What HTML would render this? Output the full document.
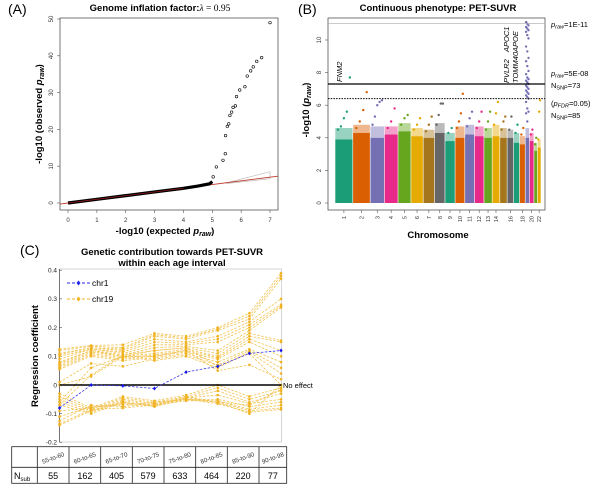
<!DOCTYPE html>
<html><head><meta charset="utf-8"><style>
html,body{margin:0;padding:0;background:#fff;}
svg{display:block;font-family:"Liberation Sans",sans-serif;}
</style></head><body>
<svg id="fig" width="600" height="485" viewBox="0 0 600 485">
<g id="pa"></g>
<g id="pb"></g>
<g id="pc"></g>
</svg>
<script>
// ---------- Panel A data ----------
const qqBulkExp = [0, 1, 2, 3, 4, 4.5, 4.9, 5.0];
const qqBulkObs = [0, 1, 2, 3, 4, 4.6, 5.2, 5.8];
const qqTailExp = [5.03,5.14,5.37,5.45,5.46,5.52,5.57,5.61,5.67,5.72,5.8,5.84,5.95,6.13,6.21,6.33,6.42,6.54,6.71,7.0];
const qqTailObs = [7.1,9.8,11.6,13.4,18.3,20.8,21.5,23.8,24.7,26,26.4,28.9,30.7,31.6,34.5,35.9,37,38.5,39.5,49];
const qqXTicks = [0,1,2,3,4,5,6,7];
const qqYTicks = [0,10,20,30,40,50];
// ---------- Panel B data ----------
const chrNames = ["1","2","3","4","5","6","7","8","9","10","11","12","13","14","15","16","17","18","19","20","21","22"];
const chrLen = [249,243,198,191,181,171,159,146,141,136,135,133,115,107,102,90,83,80,59,63,48,51];
const chrDense = [3.9,4.3,4.0,4.2,4.4,4.1,4.0,4.3,3.8,4.0,4.2,4.1,4.0,4.1,4.0,4.0,3.7,3.6,4.0,3.8,3.2,3.4];
const chrFuzz = [4.6,4.8,4.7,4.7,4.9,4.6,4.5,4.9,4.3,4.7,4.8,4.7,4.6,4.8,4.6,4.5,4.3,4.1,4.6,4.3,3.7,3.9];
const chrPeaks = [[4.5,4.7,5.2,5.6,7.7],[4.6,5.0,5.7,6.8],[4.8,5.3,6.0,6.2,6.3],[4.6,5.0,5.8],[4.8,5.2,5.4],[4.5,4.8,5.2],[4.4,4.8,5.3],[4.8,5.4,6.1,6.1],[4.3,4.6],[4.6,5.0,5.5,6.7],[4.7,5.2,5.6],[4.6,5.0,5.6],[4.5,5.0,5.6],[4.8,5.5,6.2],[4.5,5.0,5.3],[4.5,5.3],[4.3,4.8],[4.2,4.6],[4.6,5.0],[4.2,4.5],[3.6,4.0],[3.9,5.6,6.3]];
const chr19Hits = [11.1,11,10.9,10.8,10.7,10.6,10.5,10.3,10.1,9.6,9.3,8.9,8.7,8.4,8.1,7.9,7.7,7.6,7.5,7.4,7.3,7.2,7.1,7.0,6.9,6.8,6.7,6.6,6.5,6.4,6.2,5.8,5.6,5.5,5.0];
const manYTicks = [0,2,4,6,8,10];
const chrShown = ["1","2","3","4","5","6","7","8","9","10","11","12","13","14","16","18","20","22"];
const thrTop = 11, thrGw = 7.3, thrFdr = 6.4;
// ---------- Panel C data ----------
const ageGroups = ["55-to-60","60-to-65","65-to-70","70-to-75","75-to-80","80-to-85","85-to-90","90-to-98"];
const nSub = [55,162,405,579,633,464,220,77];
const chr1Series = [-0.08,0,-0.003,-0.012,0.045,0.065,0.11,0.12];
const chr19Series = [
[0.125,0.138,0.14,0.18,0.17,0.2,0.25,0.39],
[0.12,0.135,0.13,0.175,0.165,0.195,0.24,0.38],
[0.11,0.13,0.125,0.17,0.16,0.19,0.23,0.37],
[0.105,0.13,0.12,0.16,0.15,0.17,0.22,0.3],
[0.1,0.125,0.115,0.15,0.145,0.16,0.21,0.28],
[0.09,0.125,0.11,0.14,0.14,0.15,0.2,0.275],
[0.08,0.12,0.105,0.13,0.135,0.12,0.19,0.27],
[0.075,0.12,0.1,0.12,0.13,0.11,0.18,0.155],
[0.07,0.115,0.1,0.11,0.125,0.1,0.17,0.15],
[0.065,0.11,0.095,0.105,0.12,0.095,0.16,0.12],
[0.06,0.105,0.09,0.1,0.115,0.09,0.15,0.1],
[0.055,0.1,0.085,0.095,0.11,0.08,0.125,0.08],
[0.01,0.075,0.065,0.09,0.105,0.07,0.12,0.06],
[0,0.03,0.1,0.085,0.1,0.06,0.115,0.04],
[-0.06,0.06,0.1,0.1,0.12,0.05,0.07,0.02],
[-0.07,0.035,0.105,0.12,0.13,0.065,0.11,0.0],
[-0.03,-0.08,-0.04,-0.055,-0.035,0,-0.04,-0.01],
[-0.04,-0.085,-0.045,-0.06,-0.04,-0.01,-0.05,-0.02],
[-0.05,-0.09,-0.05,-0.065,-0.045,-0.02,-0.06,-0.03],
[-0.06,-0.095,-0.055,-0.07,-0.045,-0.035,-0.065,-0.05],
[-0.07,-0.1,-0.06,-0.075,-0.05,-0.05,-0.075,-0.06],
[-0.09,-0.08,-0.065,-0.07,-0.055,-0.055,-0.085,-0.07],
[-0.11,-0.075,-0.07,-0.06,-0.05,-0.06,-0.09,-0.08],
[-0.125,-0.07,-0.075,-0.065,-0.05,-0.065,-0.095,-0.085],
[-0.135,-0.085,-0.08,-0.07,-0.04,-0.06,-0.1,0.0],
[-0.14,-0.09,-0.06,-0.075,-0.045,-0.06,-0.07,-0.015]
];
const cYTicks = [-0.2,-0.1,0,0.1,0.2,0.3,0.4];

const NS="http://www.w3.org/2000/svg";
function mk(parent,tag,attrs,text){const e=document.createElementNS(NS,tag);for(const k in attrs)e.setAttribute(k,attrs[k]);if(text!==undefined)e.textContent=text;parent.appendChild(e);return e;}

// ================= PANEL A =================
const pa=document.getElementById('pa');
const ax=v=>68+v*28.86, ay=v=>203-v*3.68;
let t;
t=mk(pa,'text',{x:8,y:14,'font-size':14});t.textContent='(A)';


t=mk(pa,'text',{x:160,y:11,'font-size':9.5,'font-weight':'bold','text-anchor':'middle'});
t.innerHTML='Genome inflation factor:<tspan font-family="Liberation Serif" font-weight="normal" font-style="italic">λ</tspan><tspan font-family="Liberation Serif" font-weight="normal"> = 0.95</tspan>';


let box=mk(pa,'rect',{x:60,y:18,width:218,height:192,fill:'none',stroke:'#555','stroke-width':0.8});


let band=mk(pa,'polygon',{points:`${ax(5.5)},${ay(5.5)} ${ax(7)},${ay(8.5)} ${ax(7)},${ay(6.6)} ${ax(5.5)},${ay(5.3)}`,fill:'none',stroke:'#bbb','stroke-width':0.7});


let ref=mk(pa,'line',{x1:60,y1:ay(-0.3),x2:278,y2:ay(7.3),stroke:'#c0392b','stroke-width':0.9});


let bulk=mk(pa,'polyline',{points:qqBulkExp.map((e,i)=>ax(e)+','+ay(qqBulkObs[i])).join(' '),fill:'none',stroke:'#000','stroke-width':3.2});


let bulkRed=mk(pa,'polyline',{points:qqBulkExp.slice(0,5).map((e,i)=>ax(e)+','+ay(qqBulkObs[i])).join(' '),fill:'none',stroke:'#8b1a1a','stroke-width':0.8});


qqTailExp.forEach((e,i)=>{const c=mk(pa,'circle',{cx:ax(e),cy:ay(qqTailObs[i]),r:1.3,fill:'none',stroke:'#000','stroke-width':0.6});

});
qqXTicks.forEach(v=>{mk(pa,'line',{x1:ax(v),y1:210,x2:ax(v),y2:213,stroke:'#555','stroke-width':0.6});
const l=mk(pa,'text',{x:ax(v),y:222,'font-size':6,'text-anchor':'middle',fill:'#333'},String(v));

});
qqYTicks.forEach(v=>{mk(pa,'line',{x1:57,y1:ay(v),x2:60,y2:ay(v),stroke:'#555','stroke-width':0.6});
const l=mk(pa,'text',{x:53,y:ay(v),'font-size':6,'text-anchor':'middle',fill:'#333',transform:`rotate(-90 53 ${ay(v)})`},String(v));

});
t=mk(pa,'text',{x:165,y:234,'font-size':9.5,'font-weight':'bold','text-anchor':'middle'});
t.innerHTML='-log10 (expected <tspan font-style="italic">p</tspan><tspan font-style="italic" font-size="7" dy="2">raw</tspan><tspan dy="-2">)</tspan>';


t=mk(pa,'text',{x:0,y:0,'font-size':9.5,'font-weight':'bold','text-anchor':'middle',transform:'translate(42 114) rotate(-90)'});
t.innerHTML='-log10 (observed <tspan font-style="italic">p</tspan><tspan font-style="italic" font-size="7" dy="2">raw</tspan><tspan dy="-2">)</tspan>';



// ================= PANEL B =================
const pb=document.getElementById('pb');
const by=v=>203-v*16.3;
const colors=['#1b9e77','#d95f02','#7570b3','#e7298a','#66a61e','#e6ab02','#a6761d','#666666'];
const bx0=335,bx1=541;
const total=chrLen.reduce((a,b)=>a+b,0);
t=mk(pb,'text',{x:298,y:14,'font-size':14});t.textContent='(B)';


t=mk(pb,'text',{x:438,y:11,'font-size':9.5,'font-weight':'bold','text-anchor':'middle'},'Continuous phenotype: PET-SUVR');


box=mk(pb,'rect',{x:328,y:18,width:217,height:192,fill:'none',stroke:'#555','stroke-width':0.8});


let cum=0; const centers={};
chrLen.forEach((L,i)=>{
 const xs=bx0+cum/total*(bx1-bx0), w=L/total*(bx1-bx0); cum+=L;
 const col=colors[i%8]; centers[chrNames[i]]=xs+w/2;
 const f=mk(pb,'rect',{x:xs+0.3,y:by(chrFuzz[i]),width:w-0.6,height:by(chrDense[i])-by(chrFuzz[i]),fill:col,opacity:0.45});
 
 
 const r=mk(pb,'rect',{x:xs+0.3,y:by(chrDense[i]),width:w-0.6,height:by(0)-by(chrDense[i]),fill:col});
 
 
 const pk=chrNames[i]==='19'?chr19Hits:chrPeaks[i];
 pk.forEach((v,k)=>{
  const px=chrNames[i]==='19'? xs+w/2+((k%3)-1)*1.2 : xs+w*(k+1)/(pk.length+1);
  const d=mk(pb,'circle',{cx:px,cy:by(v),r:1.2,fill:col});
  
  
 });
});
let ln=mk(pb,'line',{x1:328,y1:by(thrTop),x2:545,y2:by(thrTop),stroke:'#aaa','stroke-width':0.7});


ln=mk(pb,'line',{x1:328,y1:by(thrGw),x2:545,y2:by(thrGw),stroke:'#000','stroke-width':1.3});


ln=mk(pb,'line',{x1:328,y1:by(thrFdr),x2:545,y2:by(thrFdr),stroke:'#000','stroke-width':1,'stroke-dasharray':'1.5,1.2'});


manYTicks.forEach(v=>{mk(pb,'line',{x1:325,y1:by(v),x2:328,y2:by(v),stroke:'#555','stroke-width':0.6});
const l=mk(pb,'text',{x:321,y:by(v),'font-size':6,'text-anchor':'middle',fill:'#333',transform:`rotate(-90 321 ${by(v)})`},String(v));

});
chrShown.forEach(c=>{const x=centers[c];mk(pb,'line',{x1:x,y1:210,x2:x,y2:213,stroke:'#555','stroke-width':0.6});
const l=mk(pb,'text',{x:x+2,y:216,'font-size':5.5,'text-anchor':'end',fill:'#333',transform:`rotate(-90 ${x+2} 216)`},c);

});
t=mk(pb,'text',{x:438,y:238,'font-size':9.5,'font-weight':'bold','text-anchor':'middle'},'Chromosome');


t=mk(pb,'text',{x:0,y:0,'font-size':9.5,'font-weight':'bold','text-anchor':'middle',transform:'translate(309 110) rotate(-90)'});
t.innerHTML='-log10 (<tspan font-style="italic">p</tspan><tspan font-style="italic" font-size="7" dy="2">raw</tspan><tspan dy="-2">)</tspan>';


function gene(x,y,s,n){const g=mk(pb,'text',{x:x,y:y,'font-size':7.5,'font-style':'italic',transform:`rotate(-90 ${x} ${y})`},s);

}
gene(342,82,'FNM2','gene-label-fnm2');
gene(509,83,'PVLR2','gene-label-pvlr2');
gene(518,83,'TOMM40','gene-label-tomm40');
gene(509,52,'APOC1','gene-label-apoc1');
gene(518,52,'APOE','gene-label-apoe');
function ann(y,html,n){const a=mk(pb,'text',{x:551,y:y,'font-size':7.5});a.innerHTML=html;

}
ann(27,'<tspan font-style="italic">p</tspan><tspan font-style="italic" font-size="5.5" dy="1.5">raw</tspan><tspan dy="-1.5">=1E-11</tspan>','annotation-1e-11');
ann(76,'<tspan font-style="italic">p</tspan><tspan font-style="italic" font-size="5.5" dy="1.5">raw</tspan><tspan dy="-1.5">=5E-08</tspan>','annotation-5e-08');
ann(88,'N<tspan font-size="5.5" dy="1.5">SNP</tspan><tspan dy="-1.5">=73</tspan>','annotation-nsnp-73');
ann(106,'(<tspan font-style="italic">p</tspan><tspan font-style="italic" font-size="5.5" dy="1.5">FDR</tspan><tspan dy="-1.5">=0.05)</tspan>','annotation-fdr');
ann(118,'N<tspan font-size="5.5" dy="1.5">SNP</tspan><tspan dy="-1.5">=85</tspan>','annotation-nsnp-85');

// ================= PANEL C =================
const pc=document.getElementById('pc');
const cx=i=>59.5+i*31.65, cy=v=>385-v*287;
t=mk(pc,'text',{x:20,y:255,'font-size':14});t.textContent='(C)';


t=mk(pc,'text',{x:172,y:255,'font-size':9.5,'font-weight':'bold','text-anchor':'middle'},'Genetic contribution towards PET-SUVR');


t=mk(pc,'text',{x:172,y:266,'font-size':9.5,'font-weight':'bold','text-anchor':'middle'},'within each age interval');


box=mk(pc,'rect',{x:59.5,y:269,width:222,height:173,fill:'none',stroke:'#ccc','stroke-width':0.8});


mk(pc,'line',{x1:59.5,y1:269,x2:59.5,y2:442,stroke:'#333','stroke-width':0.6});
cYTicks.forEach(v=>{mk(pc,'line',{x1:59.5,y1:cy(v),x2:62,y2:cy(v),stroke:'#333','stroke-width':0.5});
const l=mk(pc,'text',{x:57,y:cy(v)+2.3,'font-size':6.5,'text-anchor':'end',fill:'#222'},String(v));

});
chr19Series.forEach((s,j)=>{
 const p=mk(pc,'polyline',{points:s.map((v,i)=>cx(i)+','+cy(v)).join(' '),fill:'none',stroke:'#f2c250','stroke-width':0.8,'stroke-dasharray':'2.5,1.5'});
 
 
 s.forEach((v,i)=>{const m=mk(pc,'circle',{cx:cx(i),cy:cy(v),r:1.3,fill:'#f0b323'});
 
 });
});
ln=mk(pc,'line',{x1:59.5,y1:cy(0),x2:281.5,y2:cy(0),stroke:'#000','stroke-width':1.4});


let p1=mk(pc,'polyline',{points:chr1Series.map((v,i)=>cx(i)+','+cy(v)).join(' '),fill:'none',stroke:'#3b3bea','stroke-width':0.8,'stroke-dasharray':'2.5,1.5'});


chr1Series.forEach((v,i)=>{const m=mk(pc,'polygon',{points:`${cx(i)},${cy(v)-2} ${cx(i)+1.6},${cy(v)} ${cx(i)},${cy(v)+2} ${cx(i)-1.6},${cy(v)}`,fill:'#1515ee'});

});
t=mk(pc,'text',{x:283,y:388,'font-size':7.5},'No effect');


function leg(y,col,label,n){const g=mk(pc,'g',{});


mk(g,'line',{x1:67,y1:y,x2:90,y2:y,stroke:col,'stroke-width':0.9,'stroke-dasharray':'3,2'});
mk(g,'polygon',{points:`78.5,${y-2.5} 80.5,${y} 78.5,${y+2.5} 76.5,${y}`,fill:col});
mk(g,'text',{x:92,y:y+3,'font-size':8.5},label);}
leg(283,'#2525e8','chr1','legend-entry-chr1');
leg(299,'#f0b323','chr19','legend-entry-chr19');
t=mk(pc,'text',{x:0,y:0,'font-size':9.5,'font-weight':'bold','text-anchor':'middle',transform:'translate(38 356) rotate(-90)'},'Regression coefficient');


const tb=mk(pc,'g',{});


const colB=[11.7,37.3,69,100.7,132.3,164,195.7,227.3,259,286.7];
mk(tb,'rect',{x:11.7,y:446.7,width:275,height:36.6,fill:'none',stroke:'#222','stroke-width':0.8});
mk(tb,'line',{x1:11.7,y1:467.3,x2:286.7,y2:467.3,stroke:'#222','stroke-width':0.8});
colB.slice(1,-1).forEach(x=>mk(tb,'line',{x1:x,y1:446.7,x2:x,y2:483.3,stroke:'#222','stroke-width':0.8}));
ageGroups.forEach((g,i)=>{const mx=(colB[i+1]+colB[i+2])/2;
const l=mk(tb,'text',{x:mx,y:460,'font-size':6.2,'text-anchor':'middle',fill:'#333',transform:`rotate(-20 ${mx} 458)`},g);


const n=mk(tb,'text',{x:mx,y:479,'font-size':9,'text-anchor':'middle'},String(nSub[i]));

});
t=mk(tb,'text',{x:14,y:479,'font-size':9});t.innerHTML='N<tspan font-size="6" dy="2">sub</tspan>';


</script>
</body></html>
